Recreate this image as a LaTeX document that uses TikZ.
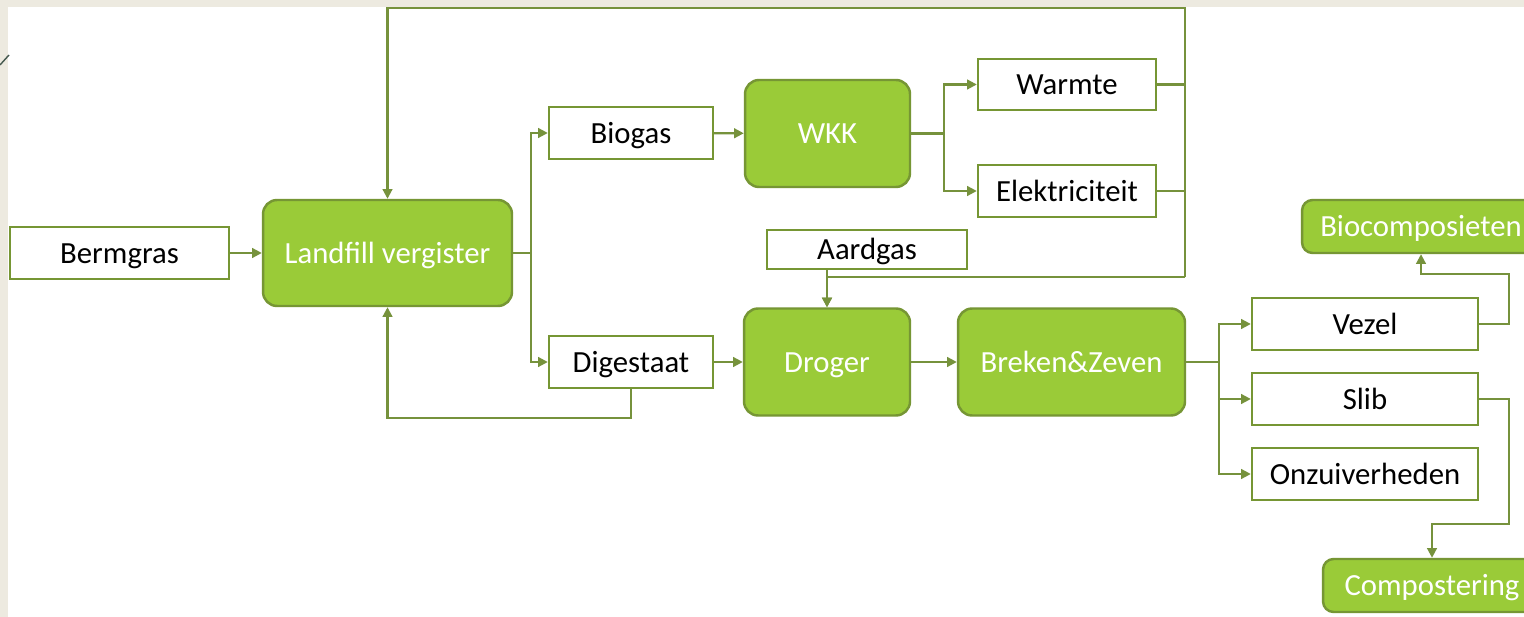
\documentclass[tikz,border=0pt]{standalone}
\usepackage{fontspec}
\setmainfont{Carlito}
\usetikzlibrary{
  arrows.meta,
  positioning,
  calc
}
\definecolor{procfill}{RGB}{154,203,56}
\definecolor{procline}{RGB}{118,150,52}
\definecolor{flowcolor}{RGB}{118,146,60}
\definecolor{slidebg}{RGB}{237,234,224}
\definecolor{cornermark}{RGB}{70,90,80}
\tikzset{
blocktext/.style={
  align=center,
  text height=11.4pt,
  text depth=0pt,
  font=\fontsize{17.5}{20}\selectfont
},
itemblock/.style={
  draw=procline,
  fill=white,
  line width=1.4pt,
  inner sep=0pt,
  text=black,
  blocktext
},
procblock/.style={
  draw=procline,
  fill=procfill,
  rounded corners=8pt,
  line width=1.4pt,
  inner sep=0pt,
  text=white,
  blocktext
},
flowline/.style={
  line width=1.2pt,
  draw=flowcolor
},
flowarrow/.style={
  flowline,
  -{Triangle[length=5.5pt,width=5.5pt]}
}
}

\begin{document}
\begin{tikzpicture}[x=0.02cm, y=-0.02cm,
      small/.style={minimum width=#1, minimum height=1.04cm},
      big/.style={minimum width=#1, minimum height=2.14cm}
    ]
      \useasboundingbox (0,0) rectangle (1524,617);
      \fill[slidebg] (0,0) rectangle (1524,617);
      \fill[white] (8,7) rectangle (1524,617);
      \draw[cornermark, line width=0.8pt] (0,65) -- (9,55);

      % input and digester
      \node[itemblock, small=4.38cm] (bermgras) at (119.5,253) {Bermgras};
      \node[procblock, minimum width=4.98cm, minimum height=2.12cm] (landfill) at (387.5,253) {Landfill vergister};

      % gas line
      \node[itemblock, small=3.28cm] (biogas) at (631,133) {Biogas};
      \node[procblock, big=3.3cm] (wkk) at (827.5,133.5) {WKK};
      \node[itemblock, small=3.56cm, minimum height=1.02cm] (warmte) at (1067,84.5) {Warmte};
      \node[itemblock, small=3.56cm] (elek) at (1067,191) {Elektriciteit};

      % digestate line
      \node[itemblock, minimum width=4cm, minimum height=0.78cm] (aardgas) at (867,249.5) {Aardgas};
      \node[itemblock, small=3.28cm] (digestaat) at (631,362) {Digestaat};
      \node[procblock, big=3.32cm] (droger) at (827,362) {Droger};
      \node[procblock, big=4.54cm] (breken) at (1071.5,362) {Breken\&Zeven};

      % products
      \node[itemblock, small=4.52cm] (vezel) at (1365,324) {Vezel};
      \node[itemblock, small=4.52cm] (slib) at (1365,399) {Slib};
      \node[itemblock, small=4.52cm] (onzuiver) at (1365,474) {Onzuiverheden};
      \node[procblock, rounded corners=6pt, minimum width=4.76cm, minimum height=1.06cm] (biocomp) at (1421,226.5) {Biocomposieten};
      \node[procblock, rounded corners=6pt, minimum width=4.36cm, minimum height=1.06cm] (compost) at (1432,585.5) {Compostering};

      \draw[flowarrow] (bermgras) -- (landfill);

      \coordinate (split1) at ($(landfill.east)+(18,0)$);
      \draw[flowline] (landfill.east) -- (split1);
      \draw[flowarrow] (split1) |- (biogas.west);
      \draw[flowarrow] (split1) |- (digestaat.west);

      \draw[flowarrow] (biogas) -- (wkk);
      \coordinate (split2) at ($(wkk.east)+(33,0)$);
      \draw[flowline] (wkk.east) -- (split2);
      \draw[flowarrow] (split2) |- (warmte.west);
      \draw[flowarrow] (split2) |- (elek.west);

      % heat back to digester and dryer
      \coordinate (looptop) at (1185,8);
      \coordinate (loopbottom) at (1185,277);
      \draw[flowline] (warmte.east) -- (warmte.east -| looptop);
      \draw[flowline] (elek.east) -- (elek.east -| looptop);
      \draw[flowarrow] (loopbottom) -- (looptop) -| (landfill.north);
      \draw[flowarrow] (loopbottom) -| (droger.north);
      \draw[flowarrow] (aardgas.south -| droger.north) -- (droger.north);

      \draw[flowarrow] (digestaat.south) -- ++(0,29) -| (landfill.south);
      \draw[flowarrow] (digestaat) -- (droger);
      \draw[flowarrow] (droger) -- (breken);

      \coordinate (split3) at ($(breken.east)+(33,0)$);
      \draw[flowline] (breken.east) -- (split3);
      \draw[flowarrow] (split3) |- (vezel.west);
      \draw[flowarrow] (split3) |- (slib.west);
      \draw[flowarrow] (split3) |- (onzuiver.west);

      \draw[flowarrow] (vezel.east) -- ++(30,0) -- ++(0,-50) -| (biocomp.south);
      \draw[flowarrow] (slib.east) -- ++(30,0) -- ++(0,125) -| (compost.north);
    \end{tikzpicture}
\end{document}
